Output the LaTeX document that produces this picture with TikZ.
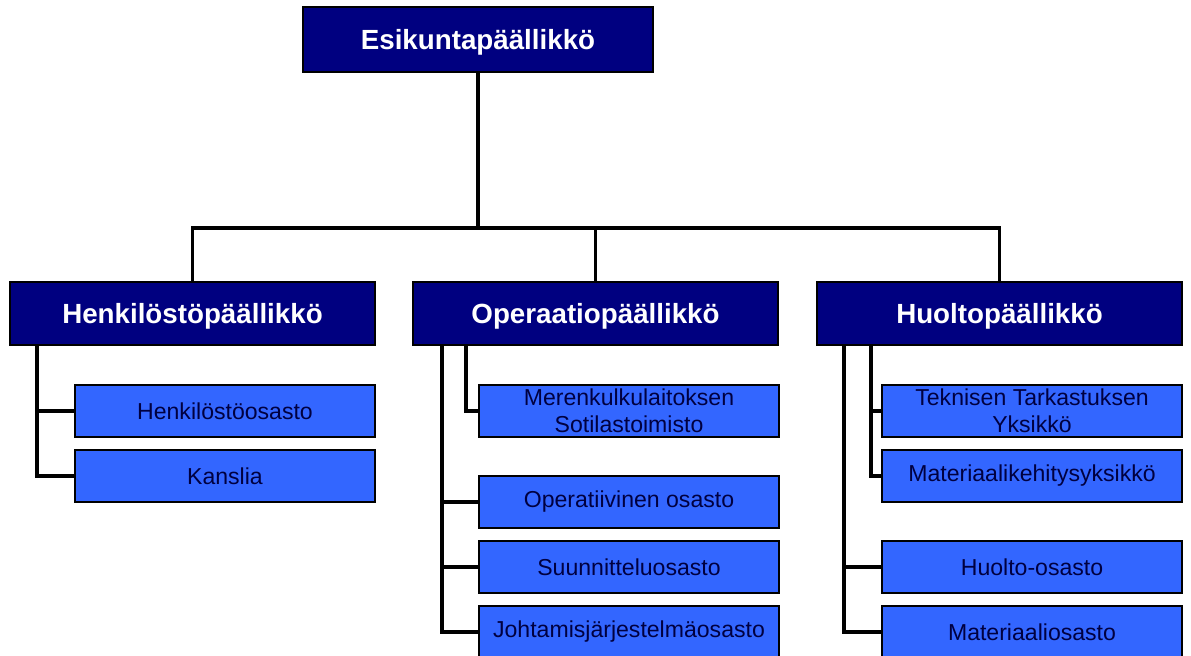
\documentclass[tikz,border=0pt]{standalone}
\usepackage{fontspec}
\setmainfont{Liberation Sans}
\definecolor{navy}{RGB}{0,0,128}
\definecolor{unitblue}{RGB}{51,102,255}
\definecolor{unittext}{RGB}{0,0,64}
\begin{document}
\begin{tikzpicture}[x=0.75pt,y=-0.75pt,
  chief/.style={draw=black,line width=0.8pt,fill=navy,text=white,
    font=\fontsize{20.8}{24}\selectfont\bfseries,text depth=0pt,
    minimum width=262.5pt,minimum height=48.75pt,inner sep=0pt},
  head/.style={chief,minimum width=273.75pt,minimum height=47.25pt},
  unit/.style={draw=black,line width=0.8pt,fill=unitblue,text=unittext,
    font=\fontsize{17.3}{20}\selectfont,align=center,
    minimum width=225pt,minimum height=39pt,inner sep=0pt},
  link/.style={draw=black,line width=2.6pt}]
\useasboundingbox (0,0) rectangle (1191,656);
\clip (0,0) rectangle (1191,656);
\fill[white] (0,0) rectangle (1191,656);

% top level
\node[chief] (top) at (478,39.5) {Esikuntapäällikkö};

% heads of branches
\node[head] (hen) at (192.5,313.5) {Henkilöstöpäällikkö};
\node[head] (ope) at (595.5,313.5) {Operaatiopäällikkö};
\node[head] (huo) at (999.5,313.5) {Huoltopäällikkö};

% personnel branch
\node[unit] (hos) at (225,411) {Henkilöstöosasto};
\node[unit] (kan) at (225,476) {Kanslia};

% operations branch
\node[unit] (mer) at (629,411) {Merenkulkulaitoksen\\Sotilastoimisto};
\node[unit] (opo) at (629,502) {Operatiivinen osasto};
\node[unit] (suu) at (629,567) {Suunnitteluosasto};
\node[unit] (joh) at (629,632) {Johtamisjärjestelmäosasto};

% logistics branch
\node[unit] (tek) at (1032,411) {Teknisen Tarkastuksen\\Yksikkö};
\node[unit] (mat) at (1032,476) {Materiaalikehitysyksikkö};
\node[unit] (hos2) at (1032,567) {Huolto-osasto};
\node[unit] (mao) at (1032,632) {Materiaaliosasto};

% distribution bus below the chief
\coordinate (bus) at (478,228);
\draw[link] (top.south) -- (bus);
\draw[link] (hen.north) |- (bus) -| (huo.north);
\draw[link] (ope.north) -- (ope.north |- bus);

% spines below the branch heads
\coordinate (henL) at (37,345);
\coordinate (opeL) at (442,345);
\coordinate (opeI) at (466,345);
\coordinate (huoL) at (844,345);
\coordinate (huoI) at (871,345);

\draw[link] (henL) |- (hos.west);
\draw[link] (henL) |- (kan.west);

\draw[link] (opeI) |- (mer.west);
\draw[link] (opeL) |- (opo.west);
\draw[link] (opeL) |- (suu.west);
\draw[link] (opeL) |- (joh.west);

\draw[link] (huoI) |- (tek.west);
\draw[link] (huoI) |- (mat.west);
\draw[link] (huoL) |- (hos2.west);
\draw[link] (huoL) |- (mao.west);
\end{tikzpicture}
\end{document}
